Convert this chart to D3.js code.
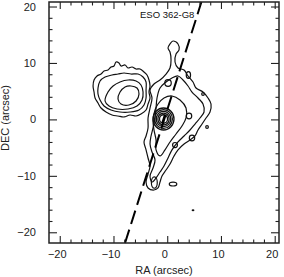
<!DOCTYPE html>
<html>
<head>
<meta charset="utf-8">
<script src="https://cdn.jsdelivr.net/npm/d3@7"></script>
<style>
  body { margin: 0; background: #fff; }
  svg { display: block; font-family: "Liberation Sans", Arial, sans-serif; }
  .contour { fill: none; stroke: #111; stroke-width: 1.2; stroke-linejoin: round; }
  .tick line { stroke: #222; stroke-width: 1.1; }
  .tick text { font-size: 11px; fill: #222; }
</style>
</head>
<body>
<div id="chart"></div>
<script>
// plot extent in arcsec
var X_DOMAIN = [-22, 20.8];
var Y_DOMAIN = [-21.9, 20.8];
var MAJOR_TICKS = [-20, -10, 0, 10, 20];
var MINOR_TICKS = [-18, -16, -14, -12, -8, -6, -4, -2, 2, 4, 6, 8, 12, 14, 16, 18];
var TITLE = "ESO 362-G8";

// contours, [RA, DEC] in arcsec
var blobOuter = [[-13.8,5.92],[-13.62,6.98],[-13.06,7.69],[-12.32,8.04],[-11.76,8.58],[-11.02,8.75],
  [-10.46,9.28],[-9.9,9.46],[-9.53,10.17],[-8.97,9.99],[-8.6,9.46],[-7.85,9.64],[-7.29,9.11],
  [-6.55,9.28],[-5.8,8.93],[-5.06,8.93],[-4.32,8.4],[-3.76,7.87],[-3.39,6.98],[-3.2,5.92],
  [-3.39,4.85],[-3.2,3.79],[-3.57,2.73],[-3.94,1.67],[-4.88,0.96],[-5.8,0.6],[-6.92,0.78],
  [-8.04,0.43],[-9.16,0.6],[-10.27,0.78],[-11.39,1.31],[-12.32,2.02],[-12.88,2.9],[-13.43,3.79],[-13.62,4.85]];
var blobMid = [[-12.88,5.56],[-12.5,6.8],[-11.57,7.51],[-10.27,7.87],[-9.16,8.04],[-8.04,8.22],[-6.74,8.04],
  [-5.43,8.04],[-4.5,7.51],[-3.94,6.63],[-3.94,5.21],[-3.94,3.79],[-4.32,2.55],[-5.25,1.67],[-6.92,1.31],
  [-8.78,1.31],[-10.46,1.67],[-11.76,2.37],[-12.5,3.44],[-12.88,4.5]];
var blobInner = [[-11.57,3.26],[-11.02,4.85],[-10.08,5.92],[-8.78,6.63],[-7.29,6.98],[-5.8,6.8],[-4.88,6.1],
  [-4.5,4.85],[-4.69,3.44],[-5.62,2.37],[-7.29,1.84],[-9.34,1.84],[-10.83,2.37]];
var blobCore = [[-9.16,3.61],[-8.78,4.85],[-7.85,5.74],[-6.74,5.92],[-5.62,5.56],[-5.25,4.5],[-5.8,3.26],
  [-7.11,2.55],[-8.6,2.73]];

var bodyOuter = [[0.52,13.36],[1.08,13.89],[2.01,13.36],[2.2,12.3],[1.64,11.59],[1.45,10.17],[2.01,9.11],
  [3.13,8.75],[3.87,7.69],[4.8,6.63],[5.36,5.56],[6.66,4.85],[7.59,3.79],[8.15,2.73],[7.96,1.31],
  [7.22,0.25],[6.48,-0.82],[5.73,-1.88],[5.17,-2.94],[4.24,-3.65],[3.13,-4.36],[2.01,-5.39],[1.27,-6.48],
  [0.52,-7.9],[-0.22,-8.97],[-0.97,-10.03],[-1.34,-11.09],[-1.71,-12.15],[-2.46,-12.51],[-3.57,-12.15],
  [-3.94,-11.09],[-3.57,-9.68],[-3.2,-8.26],[-3.57,-6.84],[-3.94,-5.39],[-4.32,-4.0],[-3.94,-2.94],
  [-3.57,-1.52],[-3.57,0.25],[-3.2,2.02],[-2.83,3.79],[-3.2,5.21],[-2.46,6.27],[-1.34,6.98],[-0.22,8.04],
  [0.52,9.11],[0.71,10.52],[0.52,11.94],[0.15,12.65]];
var bodyMid = [[-1.34,5.56],[-0.22,6.63],[0.89,7.34],[2.01,7.69],[2.94,6.98],[3.87,5.92],[4.61,4.85],
  [5.73,3.79],[6.66,2.73],[6.85,1.31],[6.1,0.25],[5.17,-0.82],[4.24,-1.88],[3.13,-2.94],[2.01,-4.0],
  [0.89,-5.39],[0.15,-6.84],[-0.6,-8.26],[-1.34,-9.32],[-2.08,-10.38],[-2.83,-11.09],[-3.2,-10.03],
  [-2.64,-8.61],[-2.27,-7.19],[-2.83,-5.78],[-3.2,-4.36],[-3.01,-2.94],[-2.64,-1.52],[-2.27,0.25],
  [-2.08,2.02],[-1.9,3.79]];
var bodyInner = [[-1.71,2.73],[-0.6,3.79],[0.89,4.15],[2.38,3.44],[3.5,2.02],[3.5,0.25],[2.75,-1.17],
  [1.64,-2.59],[0.52,-4.0],[-0.41,-5.39],[-1.34,-6.48],[-2.08,-5.39],[-2.08,-3.65],[-2.46,-1.88],
  [-2.64,-0.11],[-2.27,1.67]];

var CONTOURS = [blobOuter, blobMid, blobInner, blobCore, bodyOuter, bodyMid, bodyInner];

// nucleus and small isolated contours: [RA, DEC, rRA, rDEC]
var NUCLEUS = [-0.69, 0.07];
var NUCLEUS_RINGS = [0.75, 1.05, 1.35, 1.65, 1.95];
var ISLANDS = [[3.94,7.87,0.4,0.6],[0.15,6.45,0.6,0.6],[6.66,4.5,0.25,0.25],[4.06,0.6,0.5,0.5],
  [7.41,-1.35,0.25,0.25],[4.61,-3.3,0.5,0.5],[1.08,-11.45,0.7,0.35],[1.45,-4.54,0.45,0.45],
  [-2.4,-11.2,0.55,1.0],[4.8,-16.1,0.15,0.08]];
var BAR = [[-0.93,-0.64],[-0.45,0.78]];

// slit / major axis position angle
var PA_LINE = [[-7.85,-21.9],[6.36,20.8]];

var margin = {left: 49, top: 2, right: 5, bottom: 34};
var W = 284, H = 277;

var svg = d3.select("#chart").append("svg")
    .attr("width", W).attr("height", H);

var x = d3.scaleLinear().domain(X_DOMAIN).range([margin.left, W - margin.right]);
var y = d3.scaleLinear().domain(Y_DOMAIN).range([H - margin.bottom, margin.top]);

var line = d3.line()
    .x(function(d){ return x(d[0]); })
    .y(function(d){ return y(d[1]); });

var plot = svg.append("g");

plot.selectAll(".contour").data(CONTOURS).enter().append("path")
    .attr("class", "contour")
    .attr("d", line.curve(d3.curveCatmullRomClosed.alpha(0.5)));

plot.selectAll(".ring").data(NUCLEUS_RINGS).enter().append("ellipse")
    .attr("class", "contour")
    .attr("cx", x(NUCLEUS[0]))
    .attr("cy", y(NUCLEUS[1]))
    .attr("rx", function(r){ return x(NUCLEUS[0] + r) - x(NUCLEUS[0]); })
    .attr("ry", function(r){ return y(NUCLEUS[1]) - y(NUCLEUS[1] + r); })
    .style("stroke-width", 1.3);

plot.selectAll(".island").data(ISLANDS).enter().append("ellipse")
    .attr("class", "contour")
    .attr("cx", function(d){ return x(d[0]); })
    .attr("cy", function(d){ return y(d[1]); })
    .attr("rx", function(d){ return x(d[0] + d[2]) - x(d[0]); })
    .attr("ry", function(d){ return y(d[1]) - y(d[1] + d[3]); });

plot.append("path")
    .attr("d", d3.line().x(function(d){ return x(d[0]); }).y(function(d){ return y(d[1]); })(BAR))
    .style("stroke", "#000").style("stroke-width", 2);

plot.append("path")
    .attr("d", d3.line().x(function(d){ return x(d[0]); }).y(function(d){ return y(d[1]); })(PA_LINE))
    .style("fill", "none").style("stroke", "#000").style("stroke-width", 2)
    .style("stroke-dasharray", "14,6");

// axes, ticks inward on all four sides
function addAxis(axisFn, scale, transform, values, size, labels, pad) {
    var ax = axisFn(scale).tickValues(values).tickSizeInner(-size).tickSizeOuter(0)
        .tickPadding(pad || 3);
    if (!labels) ax.tickFormat("");
    var g = svg.append("g").attr("transform", transform).call(ax);
    g.select(".domain").remove();
    return g;
}
var bottomY = H - margin.bottom, rightX = W - margin.right;
addAxis(d3.axisBottom, x, "translate(0," + bottomY + ")", MAJOR_TICKS, 7, true, 7)
    .selectAll("text").attr("dx", -3);
addAxis(d3.axisBottom, x, "translate(0," + bottomY + ")", MINOR_TICKS, 3.5, false);
addAxis(d3.axisTop, x, "translate(0," + margin.top + ")", MAJOR_TICKS, 7, false);
addAxis(d3.axisTop, x, "translate(0," + margin.top + ")", MINOR_TICKS, 3.5, false);
addAxis(d3.axisLeft, y, "translate(" + margin.left + ",0)", MAJOR_TICKS, 8, true, 13);
addAxis(d3.axisLeft, y, "translate(" + margin.left + ",0)", MINOR_TICKS, 3.5, false);
addAxis(d3.axisRight, y, "translate(" + rightX + ",0)", MAJOR_TICKS, 8, false);
addAxis(d3.axisRight, y, "translate(" + rightX + ",0)", MINOR_TICKS, 3.5, false);

svg.append("rect")
    .attr("x", margin.left).attr("y", margin.top)
    .attr("width", rightX - margin.left).attr("height", bottomY - margin.top)
    .style("fill", "none").style("stroke", "#222").style("stroke-width", 1.5);

svg.append("text")
    .attr("x", 140).attr("y", 18)
    .style("font-size", "9.5px").style("fill", "#111")
    .text(TITLE);

svg.append("text")
    .attr("x", 164).attr("y", 274)
    .attr("text-anchor", "middle")
    .style("font-size", "11px").style("fill", "#222")
    .text("RA (arcsec)");

svg.append("text")
    .attr("transform", "translate(9,118) rotate(-90)")
    .attr("text-anchor", "middle")
    .style("font-size", "11px").style("fill", "#222")
    .text("DEC (arcsec)");
</script>
</body>
</html>
